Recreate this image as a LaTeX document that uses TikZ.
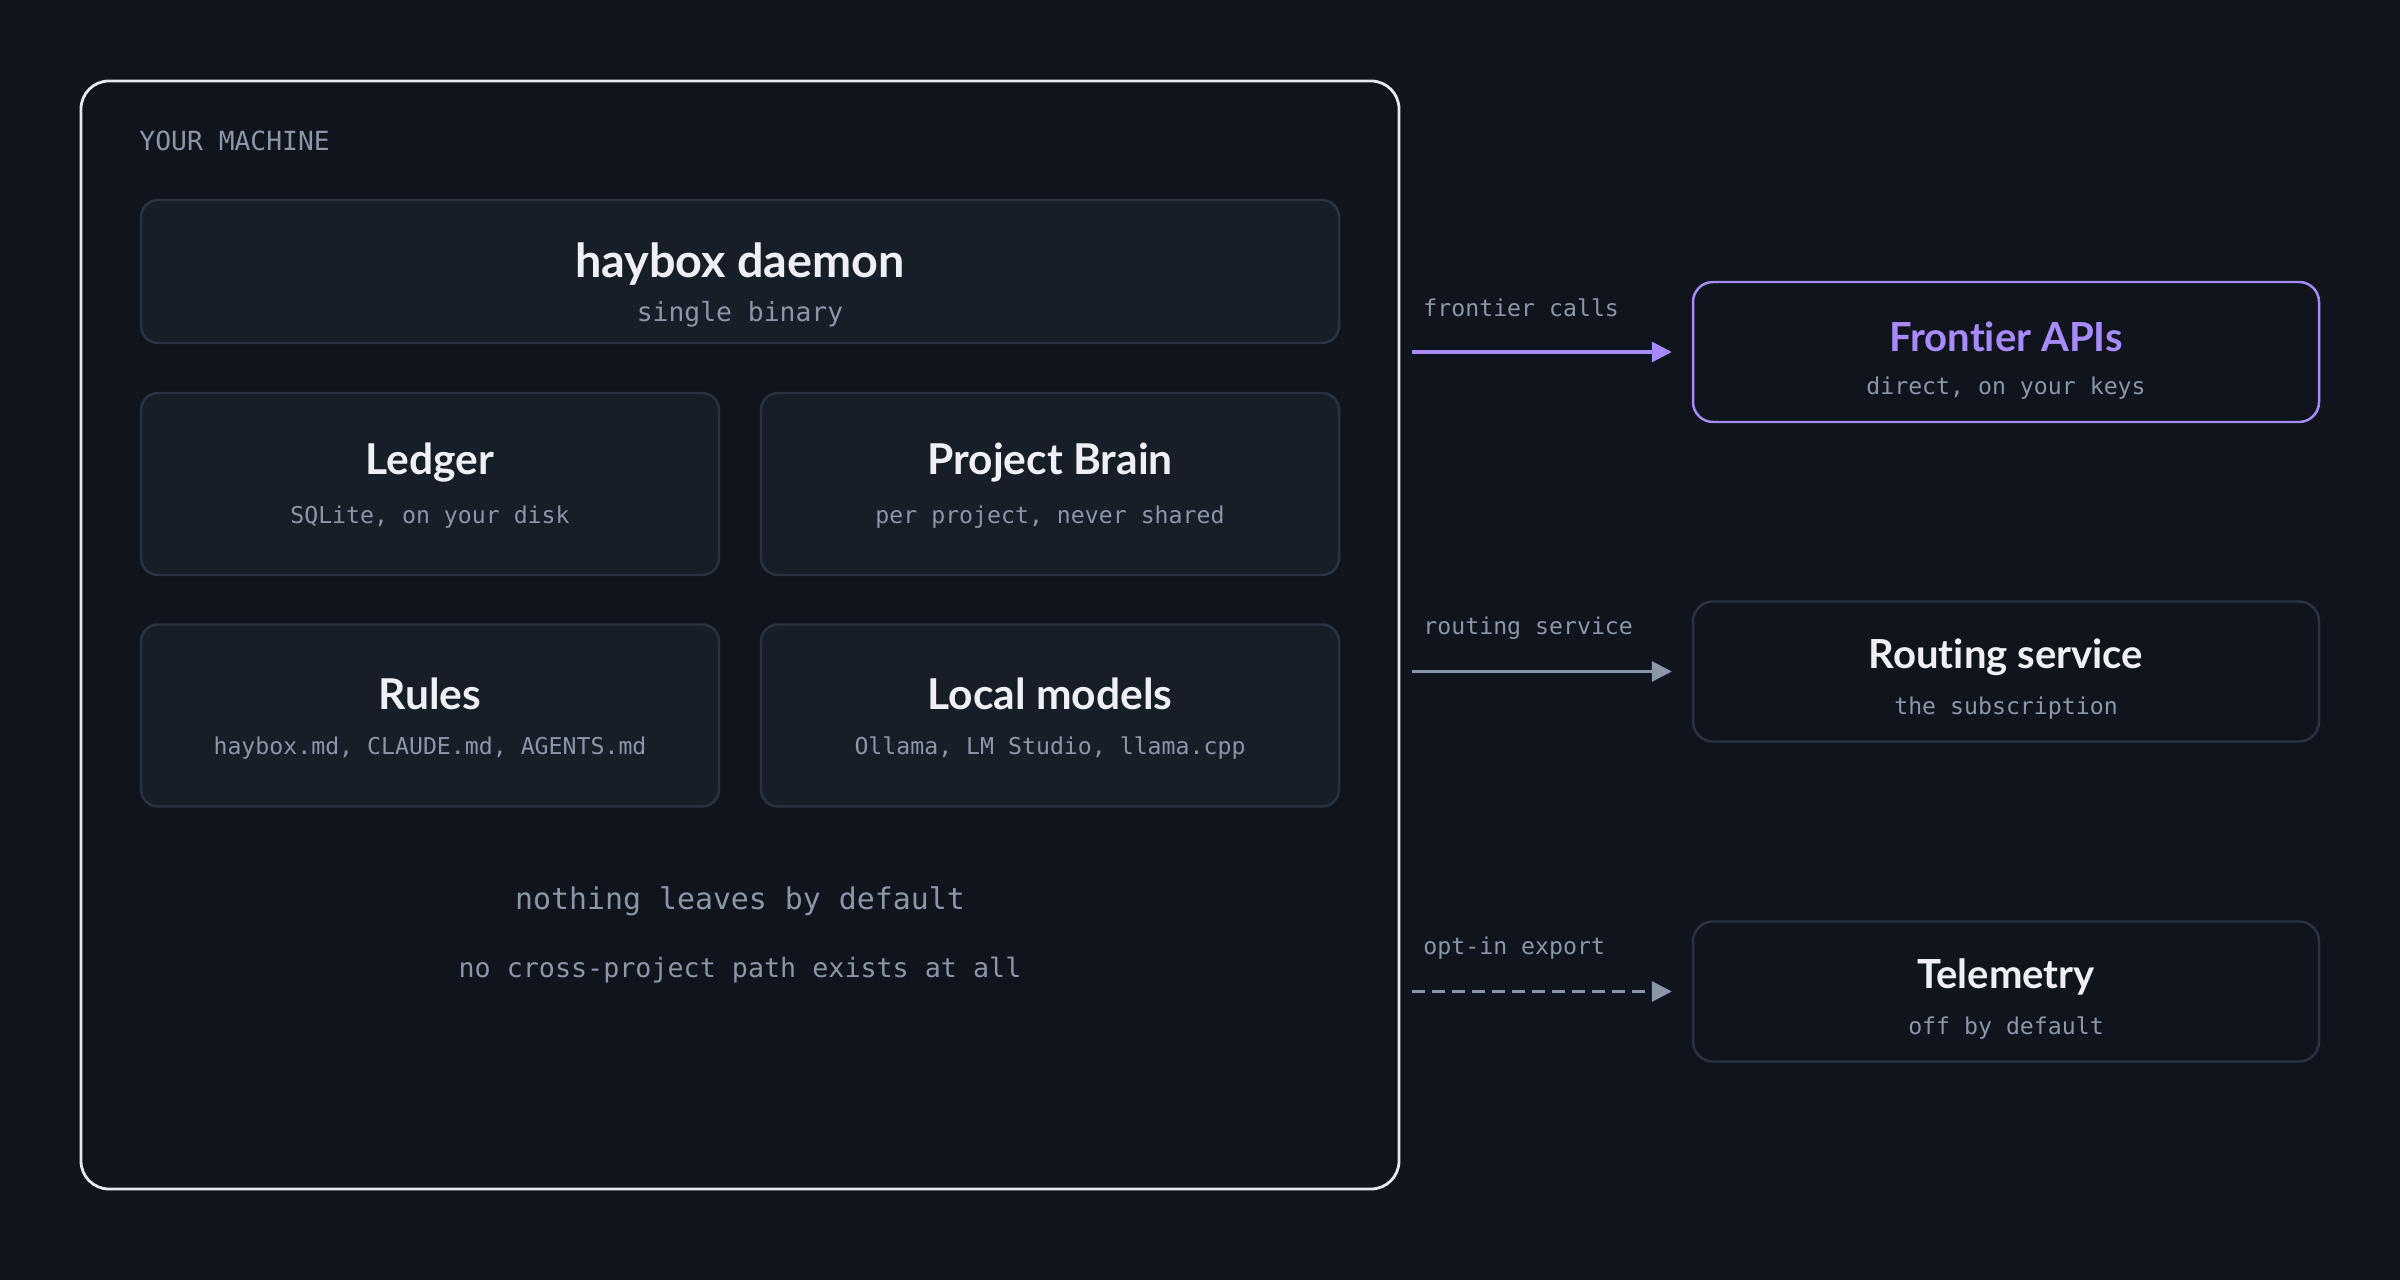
\documentclass[tikz,border=0pt]{standalone}
\usepackage{fontspec}
\setmainfont{Lato}[Ligatures=NoCommon]
\setmonofont{DejaVu Sans Mono}
\usetikzlibrary{arrows.meta}
\definecolor{bgcol}{RGB}{16,20,28}
\definecolor{panelfill}{RGB}{24,30,40}
\definecolor{panelline}{RGB}{42,51,64}
\definecolor{machineline}{RGB}{230,233,240}
\definecolor{titlecol}{RGB}{238,240,245}
\definecolor{mutedcol}{RGB}{139,150,168}
\definecolor{purplecol}{RGB}{167,139,250}
\begin{document}
\begin{tikzpicture}[
		panel/.style={rectangle,rounded corners=0.17cm,draw=panelline,fill=panelfill,line width=0.7pt,minimum width=5.78cm,minimum height=1.82cm},
		outbox/.style={rectangle,rounded corners=0.2cm,draw=panelline,line width=0.7pt,minimum width=6.26cm,minimum height=1.40cm},
		title/.style={text=titlecol,font=\fontsize{12.1}{14}\selectfont\bfseries},
		outtitle/.style={text=titlecol,font=\fontsize{11.4}{13}\selectfont\bfseries},
		sub/.style={text=mutedcol,font=\fontsize{6.6}{8}\selectfont\ttfamily},
		flowlabel/.style={text=mutedcol,font=\fontsize{6.6}{8}\selectfont\ttfamily,anchor=west},
		flow/.style={line width=0.9pt,-{Triangle[length=0.2cm,width=0.2cm]},shorten <=0.12cm,shorten >=0.2cm}
	]
	\fill [bgcol] (0,0) rectangle (24,-12.8);
	\useasboundingbox (0,0) rectangle (24,-12.8);
	
	\node (Machine) [rectangle,rounded corners=0.28cm,draw=machineline,line width=0.8pt,minimum width=13.18cm,minimum height=11.08cm] at (7.40,-6.35) {};
	\node (MachineLabel) [anchor=west,text=mutedcol,font=\fontsize{7.5}{9}\selectfont\ttfamily] at (1.27,-1.41) {YOUR MACHINE};
	
	\node (Daemon) [panel,minimum width=11.98cm,minimum height=1.43cm] at (7.40,-2.715) {};
	\node (DaemonTitle) [title,font=\fontsize{13.3}{15}\selectfont\bfseries] at (7.40,-2.64) {haybox daemon};
	\node (DaemonSub) [sub,font=\fontsize{7.5}{9}\selectfont\ttfamily] at (7.40,-3.14) {single binary};
	
	\node (Ledger) [panel] at (4.30,-4.84) {};
	\node (LedgerTitle) [title] at (4.30,-4.63) {Ledger};
	\node (LedgerSub) [sub] at (4.30,-5.17) {SQLite, on your disk};
	
	\node (Brain) [panel] at (10.50,-4.84) {};
	\node (BrainTitle) [title] at (10.50,-4.63) {Project Brain};
	\node (BrainSub) [sub] at (10.50,-5.17) {per project, never shared};
	
	\node (Rules) [panel] at (4.30,-7.155) {};
	\node (RulesTitle) [title] at (4.30,-6.94) {Rules};
	\node (RulesSub) [sub] at (4.30,-7.48) {haybox.md, CLAUDE.md, AGENTS.md};
	
	\node (Local) [panel] at (10.50,-7.155) {};
	\node (LocalTitle) [title] at (10.50,-6.94) {Local models};
	\node (LocalSub) [sub] at (10.50,-7.48) {Ollama, LM Studio, llama.cpp};
	
	\node (NoteA) [text=mutedcol,font=\fontsize{8.5}{10}\selectfont\ttfamily] at (7.40,-9.01) {nothing leaves by default};
	\node (NoteB) [text=mutedcol,font=\fontsize{7.6}{9}\selectfont\ttfamily] at (7.40,-9.70) {no cross-project path exists at all};
	
	\node (Frontier) [outbox,draw=purplecol] at (20.06,-3.52) {};
	\node (FrontierTitle) [outtitle,text=purplecol] at (20.06,-3.37) {Frontier APIs};
	\node (FrontierSub) [sub] at (20.06,-3.88) {direct, on your keys};
	
	\node (Routing) [outbox] at (20.06,-6.715) {};
	\node (RoutingTitle) [outtitle] at (20.06,-6.57) {Routing service};
	\node (RoutingSub) [sub] at (20.06,-7.08) {the subscription};
	
	\node (Telemetry) [outbox] at (20.06,-9.915) {};
	\node (TelemetryTitle) [outtitle] at (20.06,-9.77) {Telemetry};
	\node (TelemetrySub) [sub] at (20.06,-10.28) {off by default};
	
	\draw [flow,purplecol] (Machine.east |- Frontier.west) -- (Frontier.west);
	\draw [flow,mutedcol] (Machine.east |- Routing.west) -- (Routing.west);
	\draw [flow,mutedcol,dash pattern=on 0.13cm off 0.07cm] (Machine.east |- Telemetry.west) -- (Telemetry.west);
	
	\node (FrontierLabel) [flowlabel] at (14.11,-3.08) {frontier calls};
	\node (RoutingLabel) [flowlabel] at (14.11,-6.28) {routing service};
	\node (TelemetryLabel) [flowlabel] at (14.11,-9.48) {opt-in export};
\end{tikzpicture}
\end{document}
